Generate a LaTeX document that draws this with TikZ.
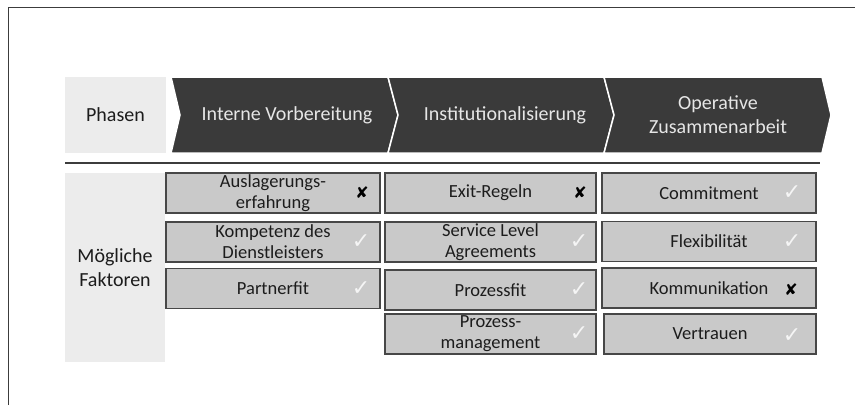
\documentclass[tikz,border=0pt]{standalone}
\usepackage{fontspec}
\setmainfont{Carlito}
\newfontfamily\symfont{DejaVu Sans}
\definecolor{chevfill}{HTML}{3A3A3A}
\definecolor{phasetxt}{HTML}{E6E6E6}
\definecolor{lightbox}{HTML}{ECECEC}
\definecolor{boxfill}{HTML}{C9C9C9}
\definecolor{boxline}{HTML}{474747}
\definecolor{darktxt}{HTML}{1C1C1C}
\definecolor{framecol}{HTML}{3C3C3C}
\begin{document}
\begin{tikzpicture}[x=1pt,y=-1pt,
  phase/.style={fill=chevfill, draw=white, line width=1.5pt, line join=miter},
  phasetext/.style={text=phasetxt, font=\fontsize{20}{24}\selectfont, align=center, inner sep=0pt},
  labelbox/.style={fill=lightbox, draw=none, text=darktxt, font=\fontsize{20}{24}\selectfont, align=center, inner sep=0pt},
  factor/.style={draw=boxline, fill=boxfill, line width=1.6pt, inner sep=0pt, text=darktxt,
                 font=\fontsize{18.5}{21}\selectfont, align=center, minimum height=40pt},
  yes/.style={text=white!96!black, font=\symfont\fontsize{22}{22}\selectfont, inner sep=0pt},
  no/.style={text=black, font=\symfont\fontsize{16}{16}\selectfont, inner sep=0pt},
]
\useasboundingbox (0,0) rectangle (855,405);

% outer frame (top and left edges)
\draw[framecol, line width=1.5pt] (8.5,405) -- (8.5,7.5) -- (855,7.5);

% header row
\node[labelbox, minimum width=101pt, minimum height=76pt] (phasen) at (115.5,115) {Phasen};
\path[phase] (171,77) -- (388,77) -- (398,115) -- (388,153) -- (171,153) -- (180,115) -- cycle;
\path[phase] (388,77) -- (604,77) -- (614,115) -- (604,153) -- (388,153) -- (398,115) -- cycle;
\path[phase] (604,77) -- (822,77) -- (831,115) -- (822,153) -- (604,153) -- (614,115) -- cycle;
\node[phasetext] (p1) at (287,115) {Interne Vorbereitung};
\node[phasetext] (p2) at (505,115) {Institutionalisierung};
\node[phasetext] (p3) at (718,115) {Operative\\Zusammenarbeit};

% separator rule
\draw[framecol, line width=1.5pt] (65,163) -- (820,163);

% row label
\node[labelbox, minimum width=100pt, minimum height=189pt] (faktoren) at (115,267.5) {Mögliche\\Faktoren};

% column 1
\node[factor, minimum width=214pt] (a1) at (273,193) {Auslagerungs-\\erfahrung};
\node[factor, minimum width=214pt] (a2) at (273,242) {Kompetenz des\\Dienstleisters};
\node[factor, minimum width=214pt] (a3) at (273,288.5) {Partnerfit};
\node[no]  (ma1) at (362,193) {✘};
\node[yes] (ma2) at (361,242) {✓};
\node[yes] (ma3) at (361,288.5) {✓};

% column 2
\node[factor, minimum width=211pt] (b1) at (490.5,193) {Exit-Regeln};
\node[factor, minimum width=211pt] (b2) at (490.5,242) {Service Level\\Agreements};
\node[factor, minimum width=211pt] (b3) at (490.5,290) {Prozessfit};
\node[factor, minimum width=211pt] (b4) at (490.5,334) {Prozess-\\management};
\node[no]  (mb1) at (580,193) {✘};
\node[yes] (mb2) at (579,242) {✓};
\node[yes] (mb3) at (579,290) {✓};
\node[yes] (mb4) at (579,334) {✓};

% column 3
\node[factor, minimum width=214pt] (c1) at (709,193) {Commitment};
\node[factor, minimum width=214pt] (c2) at (709,241.5) {Flexibilität};
\node[factor, minimum width=214pt] (c3) at (709,288) {Kommunikation};
\node[factor, minimum width=212pt] (c4) at (710,334) {Vertrauen};
\node[yes] (mc1) at (792,193) {✓};
\node[yes] (mc2) at (792,241.5) {✓};
\node[no]  (mc3) at (791,290) {✘};
\node[yes] (mc4) at (792,336) {✓};
\end{tikzpicture}
\end{document}
